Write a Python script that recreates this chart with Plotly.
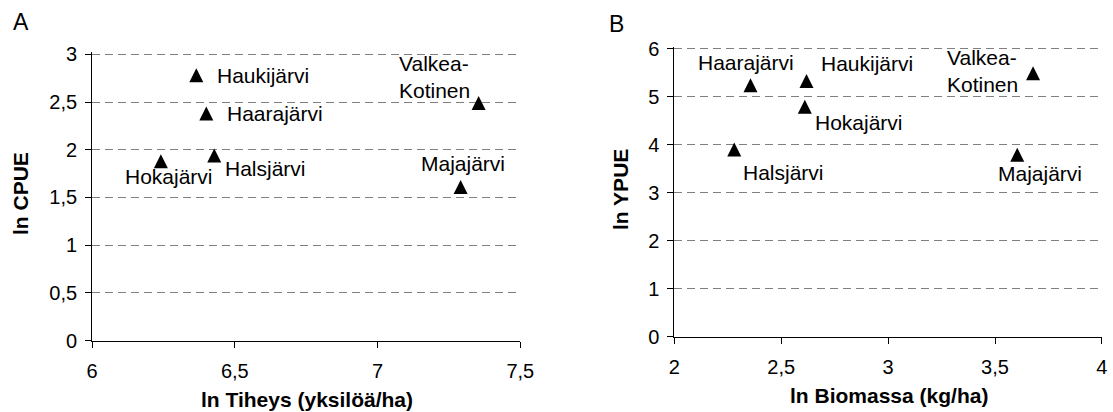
import plotly.graph_objects as go

W, H = 1113, 412

# ---- data ----
lakes = ["Haukijärvi", "Haarajärvi", "Halsjärvi", "Hokajärvi", "Valkea-<br>Kotinen", "Majajärvi"]

# Panel A: ln Tiheys vs ln CPUE
a_x = [6.365, 6.400, 6.428, 6.241, 7.354, 7.291]
a_y = [2.78, 2.38, 1.94, 1.88, 2.49, 1.61]

# Panel B: ln Biomassa vs ln YPUE
b_lakes = ["Haarajärvi", "Haukijärvi", "Hokajärvi", "Halsjärvi", "Valkea-<br>Kotinen", "Majajärvi"]
b_x = [2.356, 2.618, 2.610, 2.280, 3.678, 3.604]
b_y = [5.24, 5.33, 4.79, 3.90, 5.49, 3.79]

a_xticks = [6, 6.5, 7, 7.5]
a_xticktext = ["6", "6,5", "7", "7,5"]
a_yticks = [0, 0.5, 1, 1.5, 2, 2.5, 3]
a_yticktext = ["0", "0,5", "1", "1,5", "2", "2,5", "3"]

b_xticks = [2, 2.5, 3, 3.5, 4]
b_xticktext = ["2", "2,5", "3", "3,5", "4"]
b_yticks = [0, 1, 2, 3, 4, 5, 6]
b_yticktext = ["0", "1", "2", "3", "4", "5", "6"]

# ---- label placement (pixel offsets from point: xanchor, xshift, yshift) ----
a_label_pos = [("left", 19, 0), ("left", 19, 0), ("left", 9, -13), ("center", 8, -15),
               ("right", -7, 26), ("center", 2, 23)]
b_label_pos = [("center", -4, 23), ("left", 12, 17), ("left", 8, -16), ("left", 7, -23),
               ("right", -13, 2), ("center", 23, -19)]

FONT = "Liberation Sans, Arial, sans-serif"
fs_lab = 21
fs_tick = 20

def px(x):
    return x / W

def py(y):
    return 1 - y / H

MS = 14
fig = go.Figure()
marker = dict(symbol="arrow-down", angle=180, standoff=MS / 2, size=MS, color="black",
              line=dict(width=0))
fig.add_trace(go.Scatter(x=a_x, y=a_y, mode="markers", marker=marker, xaxis="x", yaxis="y",
                         showlegend=False, cliponaxis=False))
fig.add_trace(go.Scatter(x=b_x, y=b_y, mode="markers", marker=marker, xaxis="x2", yaxis="y2",
                         showlegend=False, cliponaxis=False))

annotations = []
for name, x, y, (anc, dx, dy) in zip(lakes, a_x, a_y, a_label_pos):
    annotations.append(dict(x=x, y=y, xref="x", yref="y", text=name, showarrow=False,
                            xanchor=anc, yanchor="middle", xshift=dx, yshift=dy, align="left",
                            font=dict(family=FONT, size=fs_lab, color="black")))
for name, x, y, (anc, dx, dy) in zip(b_lakes, b_x, b_y, b_label_pos):
    annotations.append(dict(x=x, y=y, xref="x2", yref="y2", text=name, showarrow=False,
                            xanchor=anc, yanchor="middle", xshift=dx, yshift=dy, align="left",
                            font=dict(family=FONT, size=fs_lab, color="black")))

# panel letters
annotations.append(dict(x=px(21), y=py(21.5), xref="paper", yref="paper", text="A", showarrow=False,
                        xanchor="center", yanchor="middle", font=dict(family=FONT, size=23, color="black")))
annotations.append(dict(x=px(616), y=py(24), xref="paper", yref="paper", text="B", showarrow=False,
                        xanchor="center", yanchor="middle", font=dict(family=FONT, size=23, color="black")))
# axis titles
tf = dict(family=FONT, size=21, color="black")
annotations.append(dict(x=px(306.5), y=py(399), xref="paper", yref="paper", text="<b>ln Tiheys (yksilöä/ha)</b>",
                        showarrow=False, xanchor="center", yanchor="middle", font=tf))
annotations.append(dict(x=px(888.5), y=py(395), xref="paper", yref="paper", text="<b>ln Biomassa (kg/ha)</b>",
                        showarrow=False, xanchor="center", yanchor="middle", font=tf))
annotations.append(dict(x=px(20), y=py(194), xref="paper", yref="paper", text="<b>ln CPUE</b>", textangle=-90,
                        showarrow=False, xanchor="center", yanchor="middle", font=tf))
annotations.append(dict(x=px(620), y=py(190), xref="paper", yref="paper", text="<b>ln YPUE</b>", textangle=-90,
                        showarrow=False, xanchor="center", yanchor="middle", font=tf))

tickfont = dict(family=FONT, size=fs_tick, color="black")
xcommon = dict(showline=True, linecolor="black", linewidth=1, ticks="outside", ticklen=6,
               tickcolor="black", tickwidth=1, showgrid=False, zeroline=False, tickfont=tickfont,
               ticklabelstandoff=6, automargin=False, fixedrange=True)
ycommon = dict(showline=True, linecolor="black", linewidth=1, ticks="outside", ticklen=6,
               tickcolor="black", tickwidth=1, showgrid=True, gridcolor="#808080", gridwidth=1,
               griddash="8px,5px", zeroline=False, tickfont=tickfont, ticklabelstandoff=4,
               automargin=False, fixedrange=True)

fig.update_layout(
    width=W, height=H,
    margin=dict(l=0, r=0, t=0, b=0),
    paper_bgcolor="white", plot_bgcolor="white",
    font=dict(family=FONT, color="black"),
    xaxis=dict(domain=[px(92.1), px(520.3)], range=[6, 7.5], tickvals=a_xticks, ticktext=a_xticktext,
               anchor="y", **xcommon),
    yaxis=dict(domain=[py(340.6), py(52.4)], range=[0, 3.02], tickvals=a_yticks, ticktext=a_yticktext,
               anchor="x", **ycommon),
    xaxis2=dict(domain=[px(674.4), px(1101.9)], range=[2, 4], tickvals=b_xticks, ticktext=b_xticktext,
                anchor="y2", **xcommon),
    yaxis2=dict(domain=[py(336.7), py(46.8)], range=[0, 6.04], tickvals=b_yticks, ticktext=b_yticktext,
                anchor="x2", **ycommon),
    annotations=annotations,
    showlegend=False,
)

fig.write_html("out.html")
